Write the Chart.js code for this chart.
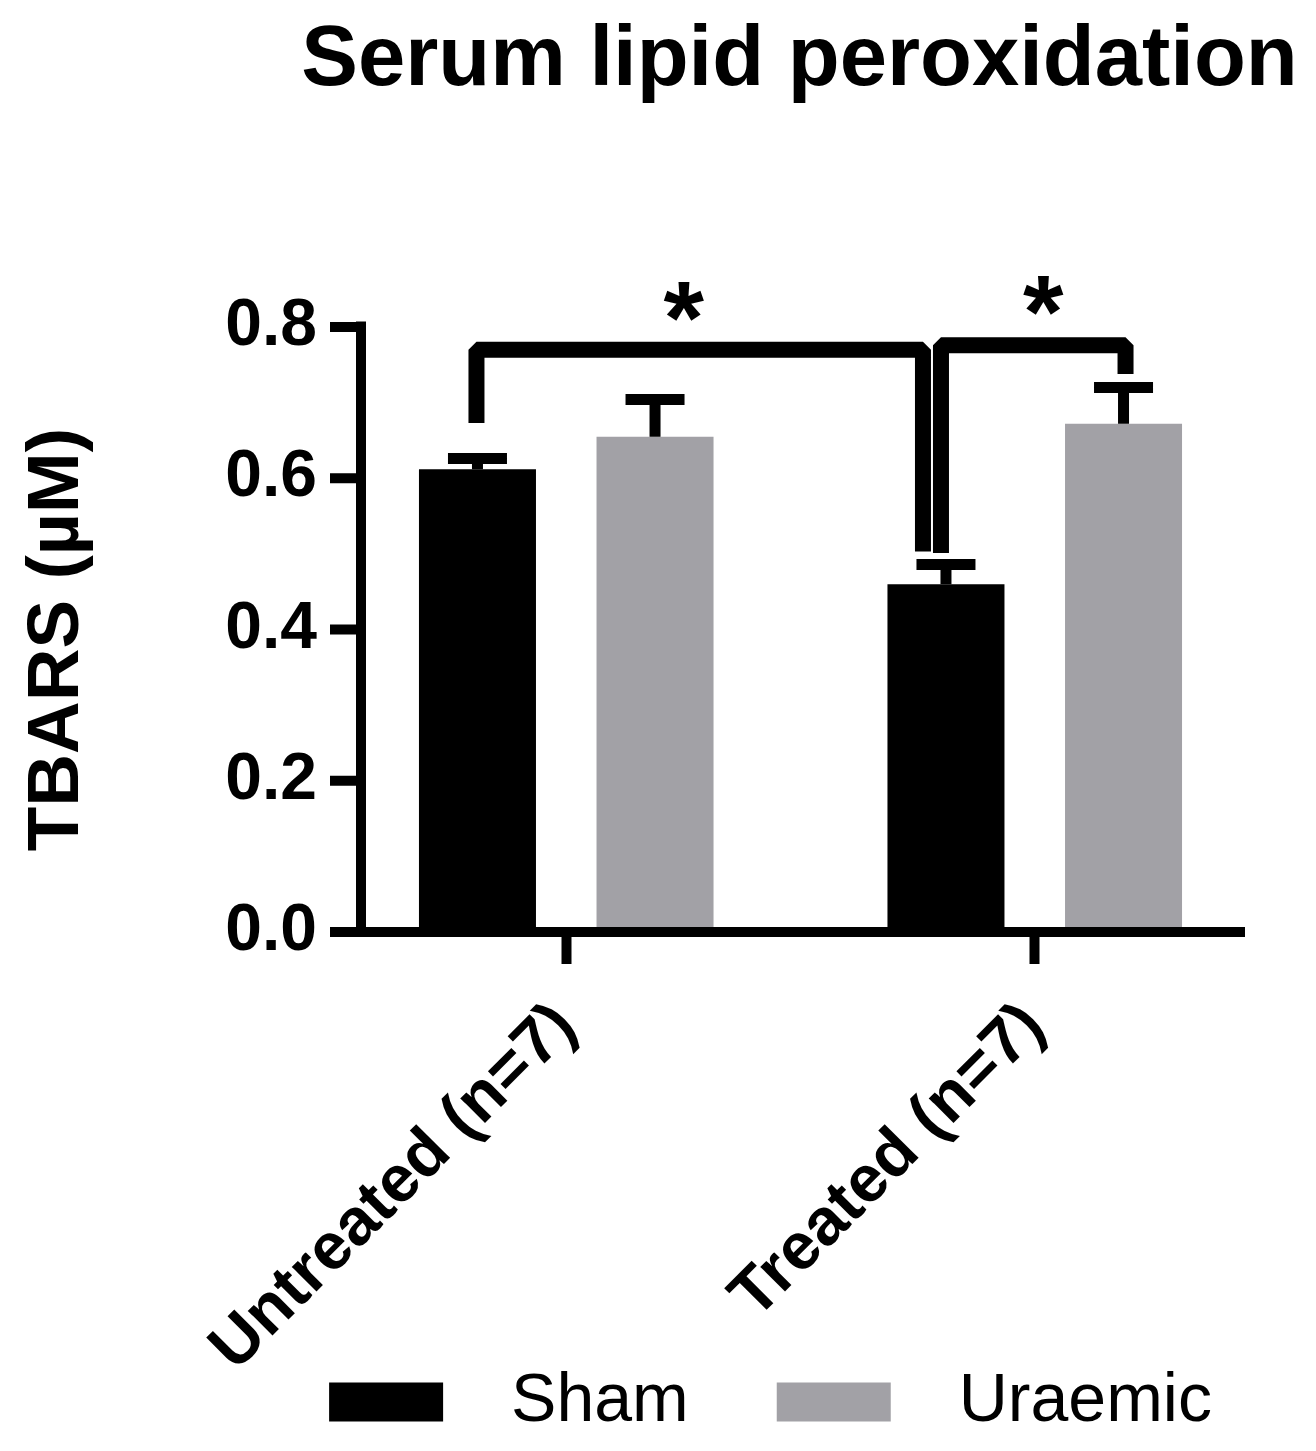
<!DOCTYPE html>
<html>
<head>
<meta charset="utf-8">
<script src="https://cdn.jsdelivr.net/npm/chart.js@4.4.0/dist/chart.umd.min.js"></script>
<style>
  html, body { margin: 0; padding: 0; background: #fff; }
  #wrap { width: 1316px; height: 1451px; }
</style>
</head>
<body>
<div id="wrap"><canvas id="chart" width="1316" height="1451"></canvas></div>
<script>
const categories = ['Untreated (n=7)', 'Treated (n=7)'];
const seriesNames = ['Sham', 'Uraemic'];
const shamMeans = [0.612, 0.460];
const shamSem = [0.014, 0.026];
const uraemicMeans = [0.655, 0.672];
const uraemicSem = [0.049, 0.048];
const yTicks = [0, 0.2, 0.4, 0.6, 0.8];
// significance brackets: [category, series] -> [category, series], heights in µM
const brackets = [
  { from: [0, 0], to: [1, 0], top: 0.770, fromEnd: 0.673, toEnd: 0.503, label: '*' },
  { from: [1, 0], to: [1, 1], top: 0.776, fromEnd: 0.501, toEnd: 0.738, label: '*' }
];

// style only (pixels)
const bracketNudge = [[-1, -23], [-5, 2]];
const starNudge = [[-16, -24], [10, -26]];
const legendShift = 136;
const titleShift = 165;

Chart.defaults.font.family = '"Liberation Sans", Arial, sans-serif';
Chart.defaults.color = '#000';

const prismDecor = {
  id: 'prismDecor',
  afterLayout(chart) {
    chart.legend.left += legendShift;
    chart.legend.right += legendShift;
    chart.titleBlock.left += titleShift;
    chart.titleBlock.right += titleShift;
    // let the rotated category labels run down past the legend's top edge
    chart.scales.x.bottom = chart.height;
  },
  afterDraw(chart) {
    const ctx = chart.ctx;
    const area = chart.chartArea;
    const y = chart.scales.y;
    const sems = [shamSem, uraemicSem];
    const means = [shamMeans, uraemicMeans];
    ctx.save();
    ctx.strokeStyle = '#000';
    ctx.lineCap = 'butt';

    // error bars (upper half only, like the original)
    ctx.lineWidth = 11;
    sems.forEach((sem, di) => {
      chart.getDatasetMeta(di).data.forEach((bar, j) => {
        const yTop = y.getPixelForValue(means[di][j] + sem[j]);
        ctx.beginPath();
        ctx.moveTo(bar.x, bar.y);
        ctx.lineTo(bar.x, yTop);
        ctx.moveTo(bar.x - 29.5, yTop);
        ctx.lineTo(bar.x + 29.5, yTop);
        ctx.stroke();
      });
    });

    // axes
    const axisX = area.left + 29;
    const y0 = y.getPixelForValue(0);
    ctx.lineWidth = 10;
    ctx.beginPath();
    ctx.moveTo(axisX, y.getPixelForValue(yTicks[yTicks.length - 1]) - 5.5);
    ctx.lineTo(axisX, y0 + 5);
    yTicks.forEach(v => {
      const py = y.getPixelForValue(v);
      ctx.moveTo(area.left - 2, py);
      ctx.lineTo(axisX, py);
    });
    ctx.moveTo(area.left - 2, y0);
    ctx.lineTo(area.right - 24, y0);
    ctx.stroke();

    // significance brackets
    ctx.lineWidth = 16;
    ctx.lineJoin = 'bevel';
    ctx.fillStyle = '#000';
    ctx.font = 'bold 104px "Liberation Sans", Arial, sans-serif';
    ctx.textAlign = 'center';
    ctx.textBaseline = 'middle';
    brackets.forEach((b, i) => {
      const x1 = chart.getDatasetMeta(b.from[1]).data[b.from[0]].x + bracketNudge[i][0];
      const x2 = chart.getDatasetMeta(b.to[1]).data[b.to[0]].x + bracketNudge[i][1];
      const yt = y.getPixelForValue(b.top);
      ctx.beginPath();
      ctx.moveTo(x1, y.getPixelForValue(b.fromEnd));
      ctx.lineTo(x1, yt);
      ctx.lineTo(x2, yt);
      ctx.lineTo(x2, y.getPixelForValue(b.toEnd));
      ctx.stroke();
      ctx.fillText(b.label, (x1 + x2) / 2 + starNudge[i][0], yt + starNudge[i][1]);
    });
    ctx.restore();
  }
};

new Chart(document.getElementById('chart'), {
  type: 'bar',
  data: {
    labels: categories,
    datasets: [
      { label: seriesNames[0], data: shamMeans, backgroundColor: '#000000', borderWidth: 0 },
      { label: seriesNames[1], data: uraemicMeans, backgroundColor: '#a2a1a6', borderWidth: 0 }
    ]
  },
  options: {
    responsive: false,
    animation: false,
    devicePixelRatio: 1,
    categoryPercentage: 0.758,
    barPercentage: 0.659,
    layout: { padding: { left: 0, right: 47, top: 0, bottom: 5 } },
    plugins: {
      tooltip: { enabled: false },
      title: {
        display: true,
        text: 'Serum lipid peroxidation',
        font: { size: 85, weight: 'bold' },
        padding: { top: 11, bottom: 214 }
      },
      legend: {
        position: 'bottom',
        labels: {
          boxWidth: 114,
          boxHeight: 39,
          padding: 88,
          font: { size: 68 },
          generateLabels: chart => Chart.defaults.plugins.legend.labels.generateLabels(chart)
            .map(item => ({ ...item, text: '\u2002' + item.text }))
        }
      }
    },
    scales: {
      x: {
        afterFit: scale => { scale.height = 348; },
        border: { display: false },
        grid: { drawOnChartArea: false, offset: false, tickLength: 32, tickWidth: 10, tickColor: '#000' },
        ticks: {
          autoSkip: false,
          minRotation: 45,
          maxRotation: 45,
          padding: 24,
          font: { size: 66, weight: 'bold' }
        }
      },
      y: {
        min: 0,
        max: 0.8,
        afterFit: scale => { scale.width = 332; },
        border: { display: false },
        grid: { display: false, drawTicks: false },
        afterBuildTicks: scale => { scale.ticks = yTicks.map(v => ({ value: v })); },
        ticks: {
          padding: 15,
          font: { size: 66, weight: 'bold' },
          callback: v => Number(v).toFixed(1)
        },
        title: {
          display: true,
          text: 'TBARS (µM) ',
          font: { size: 73, weight: 'bold' },
          padding: { top: 14, bottom: 0 }
        }
      }
    }
  },
  plugins: [prismDecor]
});
</script>
</body>
</html>
